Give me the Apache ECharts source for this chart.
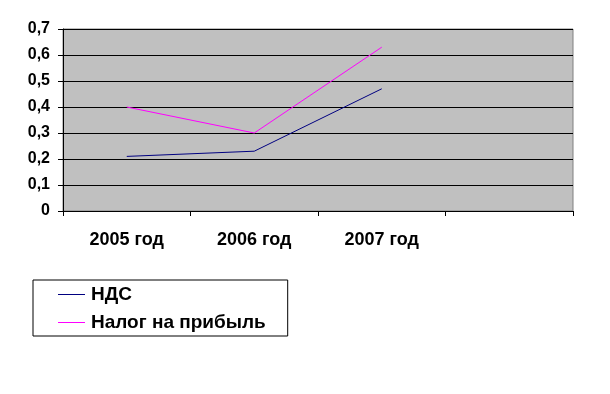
<!DOCTYPE html>
<html><head><meta charset="utf-8">
<script src="https://cdn.jsdelivr.net/npm/echarts@6/dist/echarts.min.js"></script>
<style>html,body{margin:0;padding:0;background:#fff}#c{width:610px;height:394px}</style>
</head><body><div id="c"></div>
<script>
const categories = ['2005 год', '2006 год', '2007 год', ''];
const seriesNames = ['НДС', 'Налог на прибыль'];
const ndsValues = [0.21, 0.23, 0.47];
const profitTaxValues = [0.40, 0.30, 0.63];
const yTicks = { min: 0, max: 0.7, interval: 0.1 };

const font = 'Liberation Sans, Arial, sans-serif';
const chart = echarts.init(document.getElementById('c'), null, { renderer: 'canvas' });
chart.setOption({
  animation: false,
  backgroundColor: '#ffffff',
  grid: { left: 63, right: 37, top: 29, bottom: 183, show: true, backgroundColor: '#C0C0C0', borderColor: '#808080', borderWidth: 1 },
  xAxis: {
    type: 'category', data: categories, boundaryGap: true,
    axisLine: { lineStyle: { color: '#000', width: 1 } },
    axisTick: { show: true, interval: 0, length: 5, lineStyle: { color: '#000' } },
    axisLabel: { interval: 0, margin: 20, color: '#000', fontFamily: font, fontWeight: 'bold', fontSize: 18 },
    splitLine: { show: false }
  },
  yAxis: {
    type: 'value', min: yTicks.min, max: yTicks.max, interval: yTicks.interval,
    axisLine: { show: true, lineStyle: { color: '#000', width: 1 } },
    axisTick: { show: true, length: 5, lineStyle: { color: '#000' } },
    axisLabel: { margin: 13, color: '#000', fontFamily: font, fontWeight: 'bold', fontSize: 16,
      formatter: v => v === 0 ? '0' : v.toFixed(1).replace('.', ',') },
    splitLine: { show: true, lineStyle: { color: '#000', width: 1 } }
  },
  legend: {
    orient: 'vertical', left: 33, top: 280,
    padding: [5, 22, 4, 25], itemGap: 9, itemWidth: 27, itemHeight: 1, icon: 'rect',
    borderColor: '#000', borderWidth: 1, backgroundColor: '#fff',
    textStyle: { color: '#000', fontFamily: font, fontWeight: 'bold', fontSize: 19, padding: [0, 0, 0, 1] },
    data: seriesNames
  },
  series: [
    { name: seriesNames[0], type: 'line', data: ndsValues, symbol: 'none', lineStyle: { color: '#000080', width: 1 }, itemStyle: { color: '#000080' } },
    { name: seriesNames[1], type: 'line', data: profitTaxValues, symbol: 'none', lineStyle: { color: '#FF00FF', width: 1 }, itemStyle: { color: '#FF00FF' } }
  ]
});
</script></body></html>
